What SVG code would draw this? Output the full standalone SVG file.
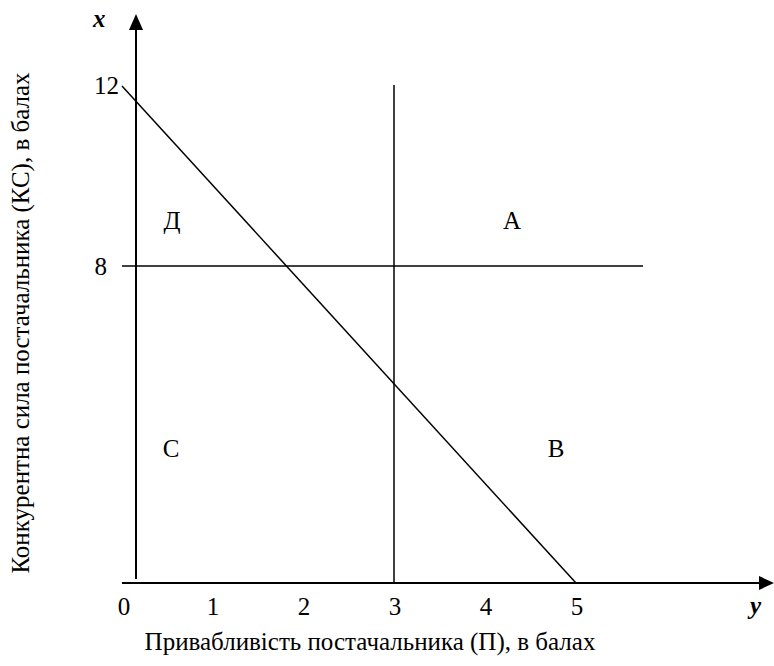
<svg xmlns="http://www.w3.org/2000/svg" width="774" height="666" viewBox="0 0 774 666">
<defs>
<style>
text{font-family:"Liberation Serif","Times New Roman",serif;font-size:25px;fill:#000}
.ax{stroke:#000;stroke-width:2;fill:none}
.ln{stroke:#000;stroke-width:1.5;fill:none}
.var{font-weight:bold;font-style:italic}
</style>
</defs>
<rect width="774" height="666" fill="#fff"/>
<g id="connectors">
<line class="ax" x1="136" y1="579" x2="136" y2="29"/>
<polygon points="136,14 129,30 143,30" fill="#000"/>
<line class="ax" x1="122" y1="583" x2="760" y2="583"/>
<polygon points="774,583 759,576 759,590" fill="#000"/>
<line class="ln" x1="122" y1="86" x2="576" y2="583"/>
<line class="ln" x1="394" y1="85" x2="394" y2="583"/>
<line class="ln" x1="122" y1="266" x2="643" y2="266"/>
</g>
<g id="axis-labels">
<text class="var" x="93" y="27">x</text>
<text class="var" x="750" y="614">y</text>
<text x="119" y="94" text-anchor="end">12</text>
<text x="107" y="275" text-anchor="end">8</text>
<text x="124" y="615" text-anchor="middle">0</text>
<text x="213" y="615" text-anchor="middle">1</text>
<text x="304" y="615" text-anchor="middle">2</text>
<text x="395" y="615" text-anchor="middle">3</text>
<text x="486" y="615" text-anchor="middle">4</text>
<text x="577" y="615" text-anchor="middle">5</text>
</g>
<g id="zone-D"><text x="172" y="229" text-anchor="middle">Д</text></g>
<g id="zone-A"><text x="512" y="229" text-anchor="middle">А</text></g>
<g id="zone-C"><text x="171" y="457" text-anchor="middle">С</text></g>
<g id="zone-B"><text x="556" y="457" text-anchor="middle">В</text></g>
<g id="title-x"><text x="370" y="650" text-anchor="middle">Привабливість постачальника (П), в балах</text></g>
<g id="title-y"><text transform="translate(29,323) rotate(-90)" text-anchor="middle">Конкурентна сила постачальника (КС), в балах</text></g>
</svg>
